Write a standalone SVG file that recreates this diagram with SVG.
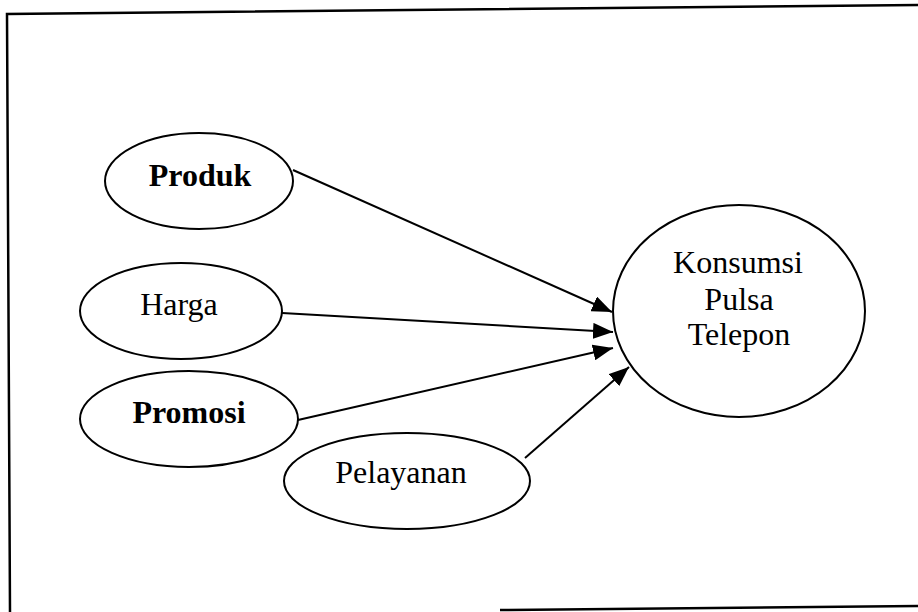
<svg xmlns="http://www.w3.org/2000/svg" width="918" height="612" viewBox="0 0 918 612">
<style>
.node ellipse{fill:#fff;stroke:#000;stroke-width:2}
.node text{font-family:"Liberation Serif","Times New Roman",serif;font-size:32px;fill:#000;text-anchor:middle}
.b{font-weight:bold}
.conn line{stroke:#000;stroke-width:2}
.frame{stroke:#000;stroke-width:2.5;fill:none}
</style>
<defs>
<marker id="ah" markerUnits="userSpaceOnUse" markerWidth="22" markerHeight="16" refX="20" refY="8" orient="auto">
<path d="M0,0 L20,8 L0,16 z" fill="#000"/>
</marker>
</defs>
<rect width="918" height="612" fill="#fff"/>
<g id="frame">
<polyline class="frame" points="918,5 7,14 10,612"/>
<line class="frame" x1="500" y1="610" x2="918" y2="606"/>
</g>
<g class="conn" id="connectors">
<line x1="293" y1="170" x2="612" y2="312" marker-end="url(#ah)"/>
<line x1="282" y1="313" x2="613" y2="332" marker-end="url(#ah)"/>
<line x1="298" y1="420" x2="613" y2="348" marker-end="url(#ah)"/>
<line x1="525" y1="458" x2="629" y2="367" marker-end="url(#ah)"/>
</g>
<g class="node" id="produk">
<ellipse cx="199" cy="181" rx="94" ry="48"/>
<text class="b" x="200" y="186">Produk</text>
</g>
<g class="node" id="harga">
<ellipse cx="181" cy="311" rx="101" ry="48"/>
<text x="179" y="315">Harga</text>
</g>
<g class="node" id="promosi">
<ellipse cx="189" cy="419" rx="109" ry="48"/>
<text class="b" x="189" y="423">Promosi</text>
</g>
<g class="node" id="pelayanan">
<ellipse cx="407" cy="481" rx="123" ry="48"/>
<text x="401" y="483">Pelayanan</text>
</g>
<g class="node" id="konsumsi">
<ellipse cx="739" cy="311" rx="126" ry="106"/>
<text x="738" y="273">Konsumsi</text>
<text x="739" y="310">Pulsa</text>
<text x="739" y="345">Telepon</text>
</g>
</svg>
